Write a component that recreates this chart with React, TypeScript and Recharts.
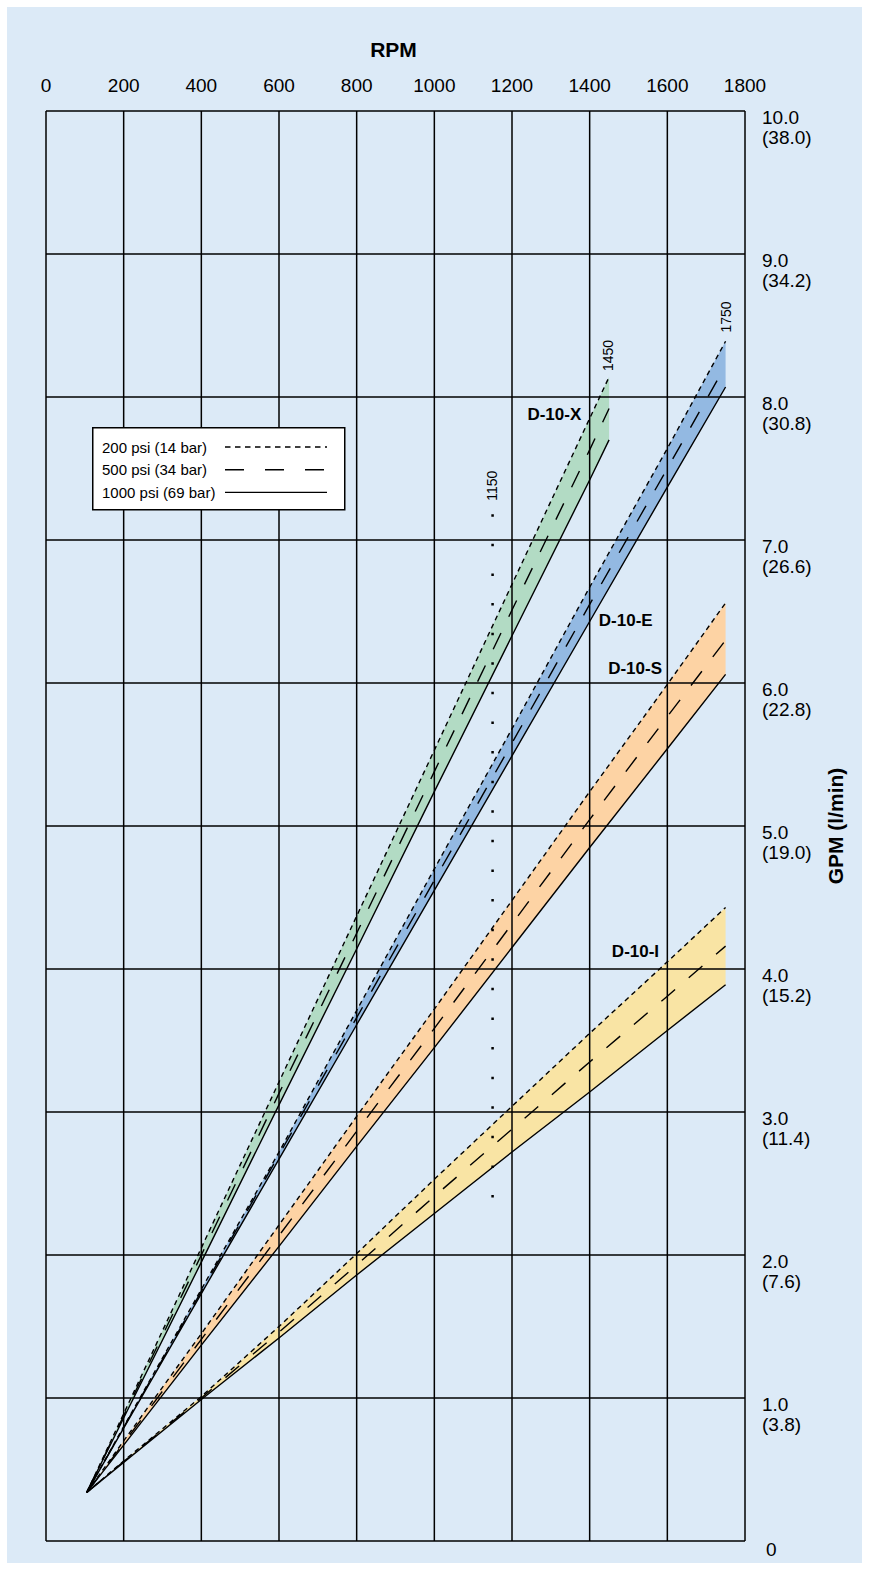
import {
  ComposedChart,
  Area,
  Line,
  XAxis,
  YAxis,
  ReferenceLine,
  ReferenceDot,
  Legend,
} from 'recharts'

// axis ticks
const RPM_TICKS = [0, 200, 400, 600, 800, 1000, 1200, 1400, 1600, 1800]
const GPM_TICKS = [0, 1, 2, 3, 4, 5, 6, 7, 8, 9, 10]
const LPM_LABELS = ['', '3.8', '7.6', '11.4', '15.2', '19.0', '22.8', '26.6', '30.8', '34.2', '38.0']

// RPM sample points
const RPM_X = [105, 200, 400, 600, 800, 1000, 1200, 1400, 1450]
const RPM_ESI = [105, 200, 400, 600, 800, 1000, 1200, 1400, 1600, 1750]

// D-10-X (GPM)
const X_200 = [0.34, 0.89, 2.05, 3.21, 4.37, 5.53, 6.69, 7.85, 8.14]
const X_500 = [0.34, 0.875, 2.0, 3.13, 4.25, 5.38, 6.51, 7.63, 7.92]
const X_1000 = [0.34, 0.86, 1.95, 3.05, 4.14, 5.24, 6.33, 7.42, 7.7]

// D-10-E
const E_200 = [0.34, 0.8, 1.76, 2.72, 3.71, 4.7, 5.68, 6.67, 7.64, 8.39]
const E_500 = [0.34, 0.795, 1.745, 2.7, 3.66, 4.62, 5.58, 6.55, 7.5, 8.22]
const E_1000 = [0.34, 0.79, 1.73, 2.67, 3.61, 4.55, 5.49, 6.43, 7.37, 8.07]

// D-10-S
const S_200 = [0.34, 0.7, 1.45, 2.21, 2.97, 3.72, 4.48, 5.24, 5.99, 6.56]
const S_500 = [0.34, 0.685, 1.41, 2.135, 2.865, 3.585, 4.315, 5.045, 5.765, 6.3]
const S_1000 = [0.34, 0.67, 1.37, 2.06, 2.76, 3.45, 4.15, 4.85, 5.54, 6.06]

// D-10-I
const I_200 = [0.34, 0.56, 1.01, 1.5, 2.01, 2.53, 3.04, 3.55, 4.05, 4.43]
const I_500 = [0.34, 0.555, 1.0, 1.46, 1.93, 2.41, 2.88, 3.35, 3.81, 4.16]
const I_1000 = [0.34, 0.55, 0.99, 1.42, 1.86, 2.29, 2.72, 3.14, 3.57, 3.89]

// speed marker 1150 rpm
const MARKER_RPM = [1150, 1150]
const MARKER_GPM = [7.18, 2.39]

const BG = '#dceaf7'
const FONT = '"Liberation Sans", Arial, sans-serif'

const build = (rpm: number[], p200: number[], p500: number[], p1000: number[]) =>
  rpm.map((r, i) => ({
    rpm: r,
    p200: p200[i],
    p500: p500[i],
    p1000: p1000[i],
    band: [p1000[i], p200[i]],
  }))

const models = [
  { name: 'D-10-X', color: '#b2dbc4', data: build(RPM_X, X_200, X_500, X_1000) },
  { name: 'D-10-E', color: '#93b9e2', data: build(RPM_ESI, E_200, E_500, E_1000) },
  { name: 'D-10-S', color: '#fdd3a4', data: build(RPM_ESI, S_200, S_500, S_1000) },
  { name: 'D-10-I', color: '#f9e4a4', data: build(RPM_ESI, I_200, I_500, I_1000) },
]

const markerData = MARKER_RPM.map((r, i) => ({ rpm: r, gpm: MARKER_GPM[i] }))

// text placement (rpm, gpm)
const modelLabels = [
  { text: 'D-10-X', rpm: 1309, gpm: 7.88 },
  { text: 'D-10-E', rpm: 1493, gpm: 6.44 },
  { text: 'D-10-S', rpm: 1517, gpm: 6.1 },
  { text: 'D-10-I', rpm: 1518, gpm: 4.12 },
]
const speedLabels = [
  { text: '1150', rpm: 1148, gpm: 7.38 },
  { text: '1450', rpm: 1448, gpm: 8.29 },
  { text: '1750', rpm: 1751, gpm: 8.56 },
]

const DASH_200 = '5 4'
const DASH_500 = '18 18'

const legendRows = [
  { label: '200 psi (14 bar)', dash: '5.5 4.5' },
  { label: '500 psi (34 bar)', dash: '19 21' },
  { label: '1000 psi (69 bar)', dash: undefined },
]

function LegendBox() {
  return (
    <svg width={254} height={84} style={{ display: 'block' }}>
      <rect x={0.75} y={0.75} width={252} height={82} fill="#fff" stroke="#000" strokeWidth={1.5} />
      {legendRows.map((row, i) => (
        <g key={row.label}>
          <text x={10} y={20 + i * 22.7} dominantBaseline="central" fontSize={15} fontFamily={FONT} fill="#000">
            {row.label}
          </text>
          <line x1={133} x2={235} y1={20 + i * 22.7} y2={20 + i * 22.7} stroke="#000" strokeWidth={1.4} strokeDasharray={row.dash} />
        </g>
      ))}
    </svg>
  )
}

const centerOf = (vb: any) => ({ cx: vb.x + (vb.width || 0) / 2, cy: vb.y + (vb.height || 0) / 2 })

export default function App() {
  return (
    <div style={{ position: 'absolute', left: 0, top: 0, width: 869, height: 1570, background: '#fff' }}>
      <div style={{ position: 'absolute', left: 7, top: 7, width: 855, height: 1556, background: BG }} />
      <div style={{ position: 'absolute', left: 0, top: 0 }}>
        <ComposedChart width={869} height={1570} margin={{ top: 71, right: 44, bottom: 29, left: 46 }}>
          <XAxis
            xAxisId={0}
            dataKey="rpm"
            type="number"
            orientation="top"
            domain={[0, 1800]}
            ticks={RPM_TICKS}
            height={40}
            axisLine={false}
            tickLine={false}
            tick={(p: any) => (
              <text x={p.x} y={85} textAnchor="middle" dominantBaseline="central" fontSize={19} fontFamily={FONT} fill="#000">
                {p.payload.value}
              </text>
            )}
            label={{
              content: (p: any) => (
                <text
                  x={p.viewBox.x + p.viewBox.width / 2 - 2}
                  y={49}
                  textAnchor="middle"
                  dominantBaseline="central"
                  fontSize={21}
                  fontWeight="bold"
                  fontFamily={FONT}
                  fill="#000"
                >
                  RPM
                </text>
              ),
            }}
          />
          <YAxis
            yAxisId={0}
            type="number"
            orientation="right"
            domain={[0, 10]}
            ticks={GPM_TICKS}
            width={80}
            axisLine={false}
            tickLine={false}
            tickSize={0}
            tickMargin={17}
            tick={(p: any) => {
              const v = p.payload.value
              if (v === 0) {
                return (
                  <text x={p.x + 4} y={p.y + 8} textAnchor="start" dominantBaseline="central" fontSize={19} fontFamily={FONT} fill="#000">
                    0
                  </text>
                )
              }
              return (
                <g>
                  <text x={p.x} y={p.y + 6} textAnchor="start" dominantBaseline="central" fontSize={19} fontFamily={FONT} fill="#000">
                    {v.toFixed(1)}
                  </text>
                  <text x={p.x} y={p.y + 26} textAnchor="start" dominantBaseline="central" fontSize={19} fontFamily={FONT} fill="#000">
                    ({LPM_LABELS[v]})
                  </text>
                </g>
              )
            }}
            label={{
              content: (p: any) => {
                const cx = p.viewBox.x + 90
                const cy = p.viewBox.y + p.viewBox.height / 2
                return (
                  <text
                    x={cx}
                    y={cy}
                    transform={`rotate(-90 ${cx} ${cy})`}
                    textAnchor="middle"
                    dominantBaseline="central"
                    fontSize={21}
                    fontWeight="bold"
                    fontFamily={FONT}
                    fill="#000"
                  >
                    GPM (l/min)
                  </text>
                )
              },
            }}
          />

          {models.map((m) => (
            <Area
              key={m.name + '-band'}
              data={m.data}
              dataKey="band"
              type="linear"
              stroke="none"
              fill={m.color}
              fillOpacity={1}
              isAnimationActive={false}
            />
          ))}

          {RPM_TICKS.map((v) => (
            <ReferenceLine key={'vx' + v} x={v} stroke="#000" strokeWidth={1.5} />
          ))}
          {GPM_TICKS.map((v) => (
            <ReferenceLine key={'hy' + v} y={v} stroke="#000" strokeWidth={1.5} />
          ))}

          <Line
            data={markerData}
            dataKey="gpm"
            type="linear"
            stroke="#000"
            strokeWidth={2.5}
            strokeDasharray="2.5 27.1"
            dot={false}
            activeDot={false}
            isAnimationActive={false}
          />

          {models.map((m) => [
            <Line key={m.name + '-200'} data={m.data} dataKey="p200" type="linear" stroke="#000" strokeWidth={1.4} strokeDasharray={DASH_200} dot={false} activeDot={false} isAnimationActive={false} />,
            <Line key={m.name + '-500'} data={m.data} dataKey="p500" type="linear" stroke="#000" strokeWidth={1.4} strokeDasharray={DASH_500} dot={false} activeDot={false} isAnimationActive={false} />,
            <Line key={m.name + '-1000'} data={m.data} dataKey="p1000" type="linear" stroke="#000" strokeWidth={1.4} dot={false} activeDot={false} isAnimationActive={false} />,
          ])}

          {modelLabels.map((l) => (
            <ReferenceDot
              key={l.text}
              x={l.rpm}
              y={l.gpm}
              r={0}
              fill="none"
              stroke="none"
              label={(p: any) => {
                const { cx, cy } = centerOf(p.viewBox)
                return (
                  <text x={cx} y={cy} textAnchor="middle" dominantBaseline="central" fontSize={17} fontWeight="bold" fontFamily={FONT} fill="#000">
                    {l.text}
                  </text>
                )
              }}
            />
          ))}
          {speedLabels.map((l) => (
            <ReferenceDot
              key={l.text}
              x={l.rpm}
              y={l.gpm}
              r={0}
              fill="none"
              stroke="none"
              label={(p: any) => {
                const { cx, cy } = centerOf(p.viewBox)
                return (
                  <text
                    x={cx}
                    y={cy}
                    transform={`rotate(-90 ${cx} ${cy})`}
                    textAnchor="middle"
                    dominantBaseline="central"
                    fontSize={14}
                    fontFamily={FONT}
                    fill="#000"
                  >
                    {l.text}
                  </text>
                )
              }}
            />
          ))}

          <Legend
            layout="vertical"
            align="center"
            verticalAlign="middle"
            wrapperStyle={{ left: 92, top: 427, width: 254, height: 84 }}
            content={() => <LegendBox />}
          />
        </ComposedChart>
      </div>
    </div>
  )
}
